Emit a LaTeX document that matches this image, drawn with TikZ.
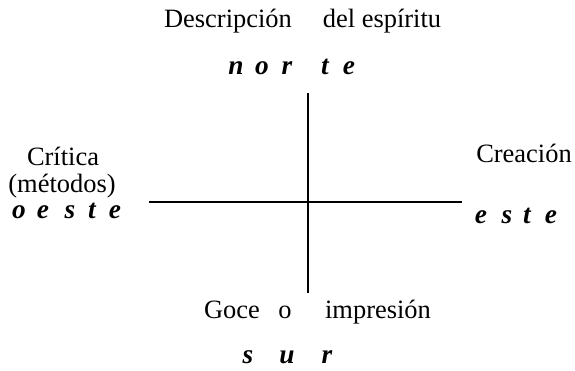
\documentclass[tikz,border=0pt]{standalone}
\usepackage{fontspec}
\setmainfont{Liberation Serif}
\begin{document}
\begin{tikzpicture}[x=0.567pt,y=-0.567pt,
    lab/.style={anchor=base,inner sep=0pt,font=\fontsize{15}{17}\selectfont},
    dir/.style={lab,font=\fontsize{15.5}{17}\selectfont\bfseries\itshape}]
    % cornice (pixel del riferimento)
    \useasboundingbox (0,0) rectangle (575,370);
    % assi
    \coordinate (N) at (308,93);  \coordinate (S) at (308,293);
    \coordinate (W) at (149,202); \coordinate (E) at (462,202);
    \draw[line width=0.8pt] (N)--(S) (W)--(E);
    % nord
    \node[lab] (descr) at (228,27) {Descripción};
    \node[lab] (espir) at (382,27) {del espíritu};
    \foreach \ch/\x [count=\i] in {n/236,o/262,r/287,t/325,e/349}
      \node[dir] (norte\i) at (\x,74) {\ch};
    % ovest
    \node[lab] (crit) at (63,165) {Crítica};
    \node[lab] (metod) at (62,192) {(métodos)};
    \foreach \ch/\x [count=\i] in {o/19,e/43,s/70,t/92,e/115}
      \node[dir] (oeste\i) at (\x,218) {\ch};
    % est
    \node[lab] (creac) at (524,162) {Creación};
    \foreach \ch/\x [count=\i] in {e/481,s/507,t/527,e/551}
      \node[dir] (este\i) at (\x,223) {\ch};
    % sud
    \node[lab] (goce) at (232,318) {Goce};
    \node[lab] (o) at (285,318) {o};
    \node[lab] (impr) at (378,318) {impresión};
    \foreach \ch/\x [count=\i] in {s/248,u/287,r/327}
      \node[dir] (sur\i) at (\x,363) {\ch};
  \end{tikzpicture}
\end{document}
